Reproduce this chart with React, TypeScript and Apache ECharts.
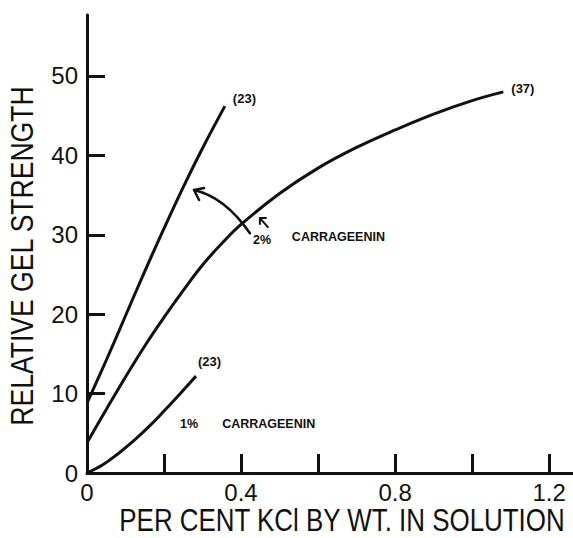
import { useEffect, useRef } from "react";
import * as echarts from "echarts";

// Percent KCl by weight in solution (x) and relative gel strength (y)
const kcl2pct23 = [0, 0.05, 0.1, 0.15, 0.2, 0.25, 0.3, 0.358];
const gel2pct23 = [8.8, 14.2, 19.8, 25.4, 30.8, 36.0, 40.9, 46.2];

const kcl2pct37 = [0, 0.05, 0.1, 0.15, 0.2, 0.25, 0.3, 0.35, 0.4, 0.5, 0.6, 0.7, 0.8, 0.9, 1.0, 1.081];
const gel2pct37 = [3.8, 8.0, 12.1, 16.0, 19.6, 23.0, 26.2, 28.9, 31.3, 35.2, 38.4, 41.0, 43.2, 45.2, 46.9, 48.0];

const kcl1pct23 = [0, 0.04, 0.08, 0.12, 0.16, 0.2, 0.24, 0.283];
const gel1pct23 = [0, 1.0, 2.4, 4.0, 5.8, 7.8, 9.9, 12.2];

const xTickValues = [0.2, 0.4, 0.6, 0.8, 1.0, 1.2];
const xLabelValues = [0, 0.4, 0.8, 1.2];
const yTickValues = [10, 20, 30, 40, 50];
const yLabelValues = [0, 10, 20, 30, 40, 50];

const endTags = ["(23)", "(37)", "(23)"];

const INK = "#111";
const LETTER_FONT = "'Liberation Sans', Arial, sans-serif";

const pairs = (xs: number[], ys: number[]) => xs.map((x, i) => [x, ys[i]]);

export default function App() {
  const ref = useRef<HTMLDivElement>(null);

  useEffect(() => {
    if (!ref.current) return;
    const chart = echarts.init(ref.current, null, { renderer: "svg" });

    const curve = (name: string, data: number[][], tag: string, offset: number[], distance: number) => ({
      name,
      type: "line",
      data,
      smooth: 0.4,
      symbol: "none",
      clip: false,
      lineStyle: { color: INK, width: 3 },
      endLabel: {
        show: true,
        formatter: tag,
        distance,
        offset,
        color: INK,
        fontSize: 13,
        fontWeight: "bold",
        fontFamily: LETTER_FONT,
      },
    });

    chart.setOption({
      animation: false,
      backgroundColor: "#fff",
      grid: { left: 87, top: 15, right: 0, bottom: 65, containLabel: false },
      xAxis: {
        type: "value",
        min: 0,
        max: 1.262,
        axisLine: { lineStyle: { color: INK, width: 3 } },
        axisTick: {
          show: true,
          inside: true,
          length: 19,
          customValues: xTickValues,
          lineStyle: { color: INK, width: 3 },
        },
        axisLabel: {
          customValues: xLabelValues,
          formatter: (v: number) => (v === 0 ? "0" : v.toFixed(1)),
          color: INK,
          fontSize: 24,
          fontFamily: LETTER_FONT,
          margin: 7,
        },
        splitLine: { show: false },
      },
      yAxis: {
        type: "value",
        min: 0,
        max: 57.68,
        axisLine: { lineStyle: { color: INK, width: 3 } },
        axisTick: {
          show: true,
          inside: true,
          length: 18,
          customValues: yTickValues,
          lineStyle: { color: INK, width: 3 },
        },
        axisLabel: {
          customValues: yLabelValues,
          color: INK,
          fontSize: 24,
          fontFamily: LETTER_FONT,
          margin: 9,
        },
        splitLine: { show: false },
      },
      series: [
        curve("2% carrageenin (23)", pairs(kcl2pct23, gel2pct23), endTags[0], [0, -8], 8),
        curve("2% carrageenin (37)", pairs(kcl2pct37, gel2pct37), endTags[1], [0, -3], 8),
        curve("1% carrageenin (23)", pairs(kcl1pct23, gel1pct23), endTags[2], [0, -15], 2),
      ],
    });

    // Annotations placed in data space, then converted to pixels
    const px = (x: number, y: number) => chart.convertToPixel({ gridIndex: 0 }, [x, y]) as number[];
    const arrowStart = px(0.423, 30.2);
    const arrowCtrl = px(0.358, 34.76);
    const arrowTip = px(0.278, 35.64);
    const smallTip = px(0.449, 32.1);
    const pct2 = px(0.431, 29.3);
    const word2 = px(0.532, 29.7);
    const pct1 = px(0.2416, 6.17);
    const word1 = px(0.351, 6.17);
    const ink = { stroke: INK, lineWidth: 2.5, fill: "none", lineCap: "round", lineJoin: "round" };
    const tagStyle = {
      fill: INK,
      fontSize: 12.5,
      fontWeight: "bold",
      fontFamily: LETTER_FONT,
      verticalAlign: "middle",
    };
    const tag = (p: number[], text: string) => ({
      type: "text",
      x: p[0],
      y: p[1],
      style: { ...tagStyle, text },
    });

    chart.setOption({
      graphic: [
        {
          type: "bezierCurve",
          shape: {
            x1: arrowStart[0], y1: arrowStart[1],
            cpx1: arrowCtrl[0], cpy1: arrowCtrl[1],
            x2: arrowTip[0], y2: arrowTip[1],
          },
          style: ink,
        },
        {
          type: "polyline",
          shape: {
            points: [
              [arrowTip[0] + 10, arrowTip[1] - 2],
              arrowTip,
              [arrowTip[0] + 5, arrowTip[1] + 10],
            ],
          },
          style: ink,
        },
        {
          type: "line",
          shape: { x1: smallTip[0], y1: smallTip[1], x2: smallTip[0] + 8, y2: smallTip[1] + 9 },
          style: { ...ink, lineWidth: 2 },
        },
        {
          type: "polyline",
          shape: {
            points: [
              [smallTip[0] + 6, smallTip[1]],
              smallTip,
              [smallTip[0], smallTip[1] + 6],
            ],
          },
          style: { ...ink, lineWidth: 2 },
        },
        tag(pct2, "2%"),
        tag(word2, "CARRAGEENIN"),
        tag(pct1, "1%"),
        tag(word1, "CARRAGEENIN"),
        {
          type: "text",
          x: 22,
          y: 256,
          rotation: Math.PI / 2,
          scaleX: 0.83,
          style: {
            text: "RELATIVE GEL STRENGTH",
            fill: INK,
            fontSize: 32,
            fontFamily: LETTER_FONT,
            align: "center",
            verticalAlign: "middle",
          },
        },
        {
          type: "text",
          x: 342,
          y: 520,
          scaleX: 0.81,
          style: {
            text: "PER CENT KCl BY WT. IN SOLUTION",
            fill: INK,
            fontSize: 32,
            fontFamily: LETTER_FONT,
            align: "center",
            verticalAlign: "middle",
          },
        },
      ],
    });

    return () => chart.dispose();
  }, []);

  return (
    <div
      ref={ref}
      style={{ position: "fixed", left: 0, top: 0, width: 573, height: 538, background: "#fff" }}
    />
  );
}
